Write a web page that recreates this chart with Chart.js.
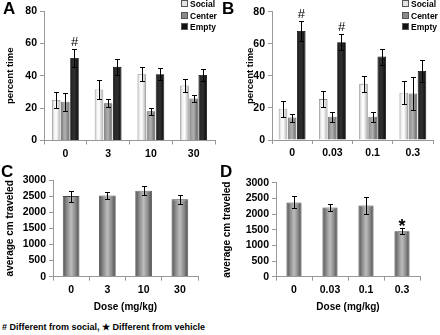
<!DOCTYPE html>
<html>
<head>
<meta charset="UTF-8">
<title>Social preference and locomotion</title>
<script src="https://cdn.jsdelivr.net/npm/chart.js"></script>
<style>
  body { margin: 0; background: #fff; font-family: "Liberation Sans", Arial, sans-serif; }
  #wrap { position: relative; width: 440px; height: 335px; overflow: hidden; }
  canvas { position: absolute; }
  .letter { position: absolute; font-size: 17px; font-weight: bold; line-height: 17px; }
  .leg { position: absolute; font-size: 8.5px; font-weight: bold; line-height: 11.7px; white-space: nowrap; }
  .leg i { display: inline-block; width: 5px; height: 5px; border: 1px solid #555; margin-right: 2px; vertical-align: 0px; }
  #foot { position: absolute; left: 2px; top: 322px; font-size: 9px; font-weight: bold; line-height: 11px; white-space: nowrap; }
</style>
</head>
<body>
<div id="wrap">
  <canvas id="cA" width="220" height="165" style="left:0;top:0"></canvas>
  <canvas id="cB" width="220" height="165" style="left:220px;top:0"></canvas>
  <canvas id="cC" width="220" height="150" style="left:0;top:165px"></canvas>
  <canvas id="cD" width="220" height="150" style="left:220px;top:165px"></canvas>
  <div class="letter" style="left:3px;top:0">A</div>
  <div class="letter" style="left:222px;top:0">B</div>
  <div class="letter" style="left:1px;top:163px">C</div>
  <div class="letter" style="left:220px;top:163px">D</div>
  <div class="leg" style="left:181px;top:-1px">
    <div><i style="background:#e4e4e4"></i>Social</div>
    <div><i style="background:#8a8a8a"></i>Center</div>
    <div><i style="background:#111"></i>Empty</div>
  </div>
  <div class="leg" style="left:402px;top:-1px">
    <div><i style="background:#e4e4e4"></i>Social</div>
    <div><i style="background:#8a8a8a"></i>Center</div>
    <div><i style="background:#111"></i>Empty</div>
  </div>
  <div id="foot"># Different from social, &#9733; Different from vehicle</div>
</div>
<script>
  const dosesA = ['0', '3', '10', '30'];
  const dosesB = ['0', '0.03', '0.1', '0.3'];

  const socialA = [25, 31.5, 41, 34];
  const socialAErr = [5, 6, 4.5, 4];
  const centerA = [24, 23, 18, 26];
  const centerAErr = [5.5, 2.5, 2, 2];
  const emptyA = [51, 45.5, 41, 40.5];
  const emptyAErr = [5.5, 5, 3.5, 3.5];
  const hashA = ['#', '', '', ''];

  const socialB = [19.5, 25.5, 35, 29.5];
  const socialBErr = [5, 5, 5, 7];
  const centerB = [14, 14.5, 14.5, 29];
  const centerBErr = [2.5, 3, 3, 10];
  const emptyB = [68, 61, 52, 43];
  const emptyBErr = [6.5, 5, 5, 7];
  const hashB = ['#', '#', '', ''];

  const distC = [2500, 2520, 2670, 2400];
  const distCErr = [170, 110, 130, 150];
  const distD = [2370, 2210, 2270, 1450];
  const distDErr = [190, 120, 260, 90];
  const starD = ['', '', '', '*'];

  const socialShade = ['#b8b8b8', '#f0f0f0', '#ffffff', '#d8d8d8', '#a8a8a8'];
  const centerShade = ['#6a6a6a', '#a0a0a0', '#b0b0b0', '#888888', '#626262'];
  const emptyShade = ['#111111', '#2a2a2a', '#303030', '#1c1c1c', '#0c0c0c'];
  const distShade = ['#4e4e4e', '#8c8c8c', '#bdbdbd', '#8c8c8c', '#4a4a4a'];

  Chart.defaults.font.family = '"Liberation Sans", Arial, sans-serif';
  Chart.defaults.color = '#000';

  // cylinder look: horizontal gradient across each bar
  const shade = {
    id: 'shade',
    beforeDatasetsDraw(chart) {
      const ctx = chart.ctx;
      chart.data.datasets.forEach((ds, di) => {
        chart.getDatasetMeta(di).data.forEach(bar => {
          const g = ctx.createLinearGradient(bar.x - bar.width / 2, 0, bar.x + bar.width / 2, 0);
          ds.shades.forEach((c, k) => g.addColorStop(k / (ds.shades.length - 1), c));
          bar.options = Object.assign({}, bar.options, { backgroundColor: g });
        });
      });
    }
  };

  // error bars and significance marks
  const whiskers = {
    id: 'whiskers',
    afterDatasetsDraw(chart) {
      const ctx = chart.ctx, y = chart.scales.y;
      ctx.save();
      ctx.strokeStyle = '#000';
      ctx.lineWidth = 1;
      chart.data.datasets.forEach((ds, di) => {
        chart.getDatasetMeta(di).data.forEach((bar, i) => {
          const v = ds.data[i], e = ds.err[i];
          const top = Math.round(y.getPixelForValue(v + e)) + 0.5;
          const bot = Math.round(y.getPixelForValue(v - e)) + 0.5;
          const x = Math.round(bar.x) + 0.5;
          ctx.beginPath();
          ctx.moveTo(x, top); ctx.lineTo(x, bot);
          ctx.moveTo(x - 2.5, top); ctx.lineTo(x + 2.5, top);
          ctx.moveTo(x - 2.5, bot); ctx.lineTo(x + 2.5, bot);
          ctx.stroke();
          if (ds.marks && ds.marks[i]) {
            const star = ds.marks[i] === '*';
            ctx.fillStyle = '#000';
            ctx.textAlign = 'center';
            ctx.textBaseline = 'middle';
            ctx.font = star ? 'bold 18px "Liberation Sans", Arial' : '13px "Liberation Sans", Arial';
            ctx.fillText(ds.marks[i], bar.x, star ? top - 1 : top - 7);
          }
        });
      });
      ctx.restore();
    }
  };

  function axes(o) {
    return {
      x: {
        ticks: { font: { size: 10.5, weight: 'bold' }, padding: 3 },
        grid: { drawOnChartArea: false, offset: true, tickLength: 4, color: '#999' },
        border: { color: '#999' },
        title: {
          display: !!o.xTitle, text: o.xTitle, color: '#000',
          font: { size: 10, weight: 'bold' }, padding: { top: 0, bottom: o.xTitlePad || 0 }
        },
        afterFit(s) { s.height = o.xHeight; }
      },
      y: {
        min: 0, max: o.max,
        ticks: { stepSize: o.step, font: { size: 10.5, weight: 'bold' }, padding: 3, callback: v => String(v) },
        grid: { drawOnChartArea: false, tickLength: 4, color: '#999' },
        border: { color: '#999' },
        title: {
          display: true, text: o.yTitle, color: '#000',
          font: { size: o.yTitleSize, weight: 'bold' }, padding: { top: o.yTitlePad, bottom: 0 }
        },
        afterFit(s) { s.width = o.yWidth; }
      }
    };
  }

  function grouped(id, labels, sets, o) {
    new Chart(document.getElementById(id), {
      type: 'bar',
      data: {
        labels: labels,
        datasets: sets.map(s => ({
          label: s.label, data: s.data, err: s.err, marks: s.marks, shades: s.shades,
          backgroundColor: s.shades[2], borderColor: s.border, borderWidth: 0.8,
          categoryPercentage: o.cat, barPercentage: o.bar
        }))
      },
      options: {
        responsive: false,
        animation: false,
        layout: { padding: o.padding },
        plugins: { legend: { display: false }, tooltip: { enabled: false } },
        scales: axes(o)
      },
      plugins: [shade, whiskers]
    });
  }

  grouped('cA', dosesA, [
    { label: 'Social', data: socialA, err: socialAErr, shades: socialShade, border: '#8a8a8a' },
    { label: 'Center', data: centerA, err: centerAErr, shades: centerShade, border: '#555' },
    { label: 'Empty', data: emptyA, err: emptyAErr, marks: hashA, shades: emptyShade, border: '#000' }
  ], { max: 80, step: 20, yTitle: 'percent time', yTitleSize: 9.5, yTitlePad: 5, yWidth: 44,
       xHeight: 24.5, padding: { top: 11, right: 5, left: 0, bottom: 0 }, cat: 0.64, bar: 0.94 });

  grouped('cB', dosesB, [
    { label: 'Social', data: socialB, err: socialBErr, shades: socialShade, border: '#8a8a8a' },
    { label: 'Center', data: centerB, err: centerBErr, shades: centerShade, border: '#555' },
    { label: 'Empty', data: emptyB, err: emptyBErr, marks: hashB, shades: emptyShade, border: '#000' }
  ], { max: 80, step: 20, yTitle: 'percent time', yTitleSize: 9.5, yTitlePad: 25, yWidth: 52,
       xHeight: 25, padding: { top: 11.7, right: 7, left: 0, bottom: 0 }, cat: 0.68, bar: 0.94 });

  grouped('cC', dosesA, [
    { label: 'Distance', data: distC, err: distCErr, shades: distShade, border: '#444' }
  ], { max: 3000, step: 500, yTitle: 'average cm traveled', yTitleSize: 10, yTitlePad: 4, yWidth: 53,
       xHeight: 38.3, xTitle: 'Dose (mg/kg)', xTitlePad: 1.3,
       padding: { top: 15, right: 22, left: 0, bottom: 0 }, cat: 0.46, bar: 1 });

  grouped('cD', dosesB, [
    { label: 'Distance', data: distD, err: distDErr, marks: starD, shades: distShade, border: '#444' }
  ], { max: 3000, step: 500, yTitle: 'average cm traveled', yTitleSize: 10, yTitlePad: 1, yWidth: 56,
       xHeight: 38.3, xTitle: 'Dose (mg/kg)', xTitlePad: 1.3,
       padding: { top: 17.7, right: 20, left: 0, bottom: 0 }, cat: 0.42, bar: 1 });
</script>
</body>
</html>
